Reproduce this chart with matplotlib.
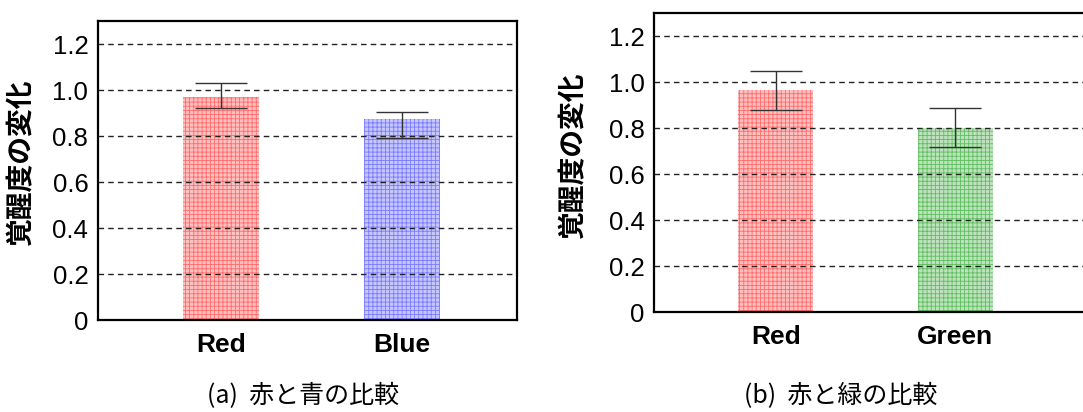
import matplotlib
matplotlib.use("Agg")
import matplotlib.pyplot as plt
import numpy as np

# ---- data ----
labels_a = ["Red", "Blue"]
means_a = [0.97, 0.875]
err_lo_a = [0.05, 0.085]
err_hi_a = [0.06, 0.03]

labels_b = ["Red", "Green"]
means_b = [0.968, 0.80]
err_lo_b = [0.09, 0.08]
err_hi_b = [0.08, 0.088]

yticks = [0, 0.2, 0.4, 0.6, 0.8, 1.0, 1.2]
ytick_labels = ["0", "0.2", "0.4", "0.6", "0.8", "1.0", "1.2"]
ylabel = "覚醒度の変化"
caption_a = "(a)  赤と青の比較"
caption_b = "(b)  赤と緑の比較"

face = {"Red": "#ffc0c0", "Blue": "#c6c6ff", "Green": "#bde2bd"}
hatchc = {"Red": "#ff6b6b", "Blue": "#7a7aff", "Green": "#5fbf5f"}

plt.rcParams['hatch.linewidth'] = 0.6

fig = plt.figure(figsize=(10.83, 4.12), dpi=100)
ax_a = fig.add_axes([0.0905, 0.2233, 0.3869, 0.7257])
ax_b = fig.add_axes([0.6042, 0.2420, 0.3990, 0.7257])


def draw(ax, labels, means, lo, hi, xlim, lab_x):
    x = np.arange(len(labels))
    for i, name in enumerate(labels):
        ax.bar(x[i], means[i], width=0.42, color=face[name], edgecolor=hatchc[name],
               hatch="++++", linewidth=0, zorder=2)
    ax.errorbar(x, means, yerr=[lo, hi], fmt="none", ecolor="#333333",
                elinewidth=1.0, capsize=19, capthick=1.0, zorder=4)
    ax.set_xlim(*xlim)
    ax.set_ylim(0, 1.3)
    ax.set_yticks(yticks)
    ax.set_yticklabels(ytick_labels, family="Liberation Sans", fontsize=18.5)
    ax.set_xticks(x)
    ax.set_xticklabels(labels, family="Liberation Sans", fontsize=19, fontweight="bold")
    ax.tick_params(axis="y", length=0, pad=7)
    ax.tick_params(axis="x", length=0, pad=9)
    for yv in yticks[1:]:
        ax.axhline(yv, color="#222222", lw=1.0, ls=(0, (4, 3)), zorder=3)
    for s in ax.spines.values():
        s.set_linewidth(1.6)
        s.set_color("black")
    ax.set_ylabel(ylabel, family=["Noto Sans CJK JP", "DejaVu Sans"], fontsize=20,
                  fontweight="bold")
    ax.yaxis.set_label_coords(lab_x, 0.525)


draw(ax_a, labels_a, means_a, err_lo_a, err_hi_a, (-0.68, 1.635), -0.15)
draw(ax_b, labels_b, means_b, err_lo_b, err_hi_b, (-0.676, 1.73), -0.155)

fig.text(0.2798, 0.006, caption_a, ha="center", va="bottom", fontsize=18,
         family=["Noto Sans CJK JP", "DejaVu Sans"])
fig.text(0.7766, 0.006, caption_b, ha="center", va="bottom", fontsize=18,
         family=["Noto Sans CJK JP", "DejaVu Sans"])

fig.savefig("out.png", dpi=100)
